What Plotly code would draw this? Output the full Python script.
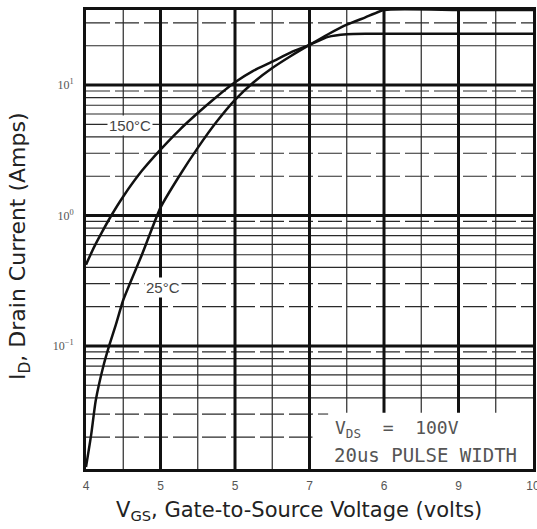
import numpy as np
import plotly.graph_objects as go

# ---- data ----
vgs_150 = [4.0, 4.1, 4.2, 4.34, 4.5, 4.75, 5.0, 5.25, 5.5, 5.75, 6.0, 6.25, 6.5, 6.75, 7.0, 7.25, 7.5, 7.75, 8.0, 9.0, 10.0]
id_150 = [0.42, 0.56, 0.72, 1.0, 1.4, 2.2, 3.2, 4.5, 6.1, 8.1, 10.5, 12.9, 15.1, 17.8, 20.3, 23.4, 24.5, 24.7, 24.7, 24.7, 24.7]

vgs_25 = [4.0, 4.07, 4.13, 4.23, 4.31, 4.4, 4.5, 4.75, 5.0, 5.25, 5.5, 5.75, 6.0, 6.25, 6.5, 6.75, 7.0, 7.25, 7.5, 7.75, 8.0, 9.0, 10.0]
id_25 = [0.0118, 0.021, 0.038, 0.069, 0.1, 0.145, 0.225, 0.5, 1.15, 2.0, 3.3, 5.2, 7.7, 10.5, 13.5, 16.7, 20.3, 24.5, 29.0, 33.0, 37.6, 37.6, 37.6]

x_tickvals = [4, 5, 6, 7, 8, 9, 10]
x_ticktext = ["4", "5", "5", "7", "6", "9", "10"]
y_tickvals = [0.1, 1, 10]
y_ticktext = ["10<sup>\u22121</sup>", "10<sup>0</sup>", "10<sup>1</sup>"]

X_MIN, X_MAX = 4, 10
Y_MIN, Y_MAX = 0.0114, 37.6

fig = go.Figure()

def hv_lines(xs=None, ys=None):
    px, py = [], []
    if xs is not None:
        for v in xs:
            px += [v, v, None]
            py += [Y_MIN, Y_MAX, None]
    if ys is not None:
        for v in ys:
            px += [X_MIN, X_MAX, None]
            py += [v, v, None]
    return px, py

# minor horizontal lines
minor_solid, minor_dash = [], []
for dec in [0.01, 0.1, 1, 10]:
    for m in range(2, 10):
        v = m * dec
        if Y_MIN < v < Y_MAX:
            (minor_dash if m in (3, 9) or (m == 2 and dec < 10) else minor_solid).append(v)

gx, gy = hv_lines(xs=[4.5, 5.5, 6.5, 7.5, 8.5, 9.5], ys=minor_solid)
fig.add_trace(go.Scatter(x=gx, y=gy, mode="lines", line=dict(color="#2a2a2a", width=1.2),
                         hoverinfo="skip", showlegend=False))
gx, gy = hv_lines(ys=minor_dash)
fig.add_trace(go.Scatter(x=gx, y=gy, mode="lines", line=dict(color="#2a2a2a", width=1.2, dash="24px,5px"),
                         hoverinfo="skip", showlegend=False))
gx, gy = hv_lines(xs=[5, 6, 7, 8, 9], ys=[0.1, 1, 10])
fig.add_trace(go.Scatter(x=gx, y=gy, mode="lines", line=dict(color="#111", width=3),
                         hoverinfo="skip", showlegend=False))

# white box behind the condition note
fig.add_trace(go.Scatter(x=[7.04, 10, 10, 7.04, 7.04], y=[Y_MIN, Y_MIN, 0.0297, 0.0297, Y_MIN],
                         mode="lines", fill="toself", fillcolor="white", line=dict(width=0),
                         hoverinfo="skip", showlegend=False))
fig.add_trace(go.Scatter(x=[7.25, 10, 10, 7.25, 7.25], y=[Y_MIN, Y_MIN, 0.0308, 0.0308, Y_MIN],
                         mode="lines", fill="toself", fillcolor="white", line=dict(width=0),
                         hoverinfo="skip", showlegend=False))

# curves
fig.add_trace(go.Scatter(x=vgs_150, y=id_150, mode="lines",
                         line=dict(color="#111", width=2.5, shape="spline", smoothing=0.5),
                         name="150°C", showlegend=False))
fig.add_trace(go.Scatter(x=vgs_25, y=id_25, mode="lines",
                         line=dict(color="#111", width=2.5, shape="spline", smoothing=0.5),
                         name="25°C", showlegend=False))

PL, PT, PW, PH = 86, 10, 447, 459

def px2paper(xp, yp):
    return (xp - PL) / PW, (PT + PH - yp) / PH

def anno(xp, yp, text, font, xanchor="center", **kw):
    ax, ay = px2paper(xp, yp)
    return dict(x=ax, y=ay, xref="paper", yref="paper", text=text, showarrow=False,
                xanchor=xanchor, yanchor="middle", font=font, **kw)

annos = [
    anno(130, 125, "150°C", dict(family="Liberation Sans", size=15, color="#444"), bgcolor="white", borderpad=1),
    anno(163, 287, "25°C", dict(family="Liberation Sans", size=15, color="#444"), bgcolor="white", borderpad=1),
    anno(333, 429, "V<sub>DS</sub>  =  100V", dict(family="DejaVu Sans Mono", size=18, color="#555"), xanchor="left"),
    anno(332, 455, "20us PULSE WIDTH", dict(family="DejaVu Sans Mono", size=19, color="#555"), xanchor="left"),
    anno(299, 511, "V<sub>GS</sub>, Gate-to-Source Voltage (volts)", dict(family="DejaVu Sans", size=21, color="#222")),
    anno(19, 246, "I<sub>D</sub>, Drain Current (Amps)", dict(family="DejaVu Sans", size=22, color="#222"), textangle=-90),
]

fig.update_layout(
    template="none",
    width=537, height=529,
    margin=dict(l=PL, r=537 - PL - PW, t=PT, b=529 - PT - PH),
    paper_bgcolor="white", plot_bgcolor="white",
    showlegend=False,
    annotations=annos,
    xaxis=dict(range=[X_MIN, X_MAX], tickvals=x_tickvals, ticktext=x_ticktext, showgrid=False,
               zeroline=False, showline=True, mirror=True, linewidth=3, linecolor="#111",
               ticks="", tickfont=dict(family="Liberation Sans", size=12, color="#555"),
               ticklabeloverflow="allow", ticklabelstandoff=4,
               automargin=False, layer="above traces"),
    yaxis=dict(type="log", range=[np.log10(Y_MIN), np.log10(Y_MAX)], tickvals=y_tickvals,
               ticktext=y_ticktext, showgrid=False, zeroline=False, showline=True, mirror=True,
               linewidth=3, linecolor="#111", ticks="",
               tickfont=dict(family="Liberation Serif", size=12, color="#555"),
               ticklabelstandoff=7,
               automargin=False, layer="above traces"),
)

fig.write_html("out.html", config={"displayModeBar": False},
               post_script="document.body.style.margin='0px';document.body.style.padding='0px';")
